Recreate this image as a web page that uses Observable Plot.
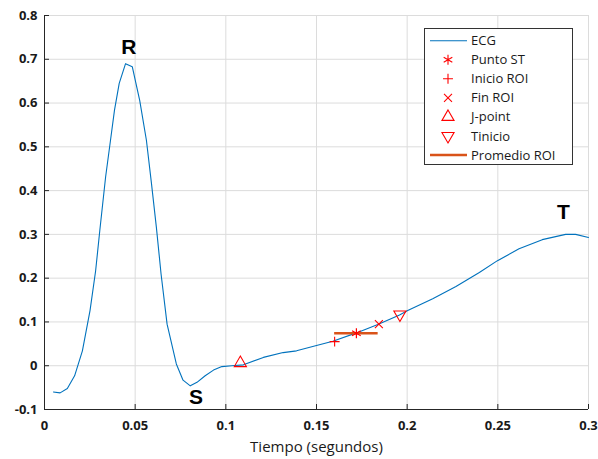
<!DOCTYPE html>
<html>
<head>
<meta charset="utf-8">
<script src="https://cdn.jsdelivr.net/npm/d3@7"></script>
<script src="https://cdn.jsdelivr.net/npm/@observablehq/plot@0.6"></script>
<style>
  body { margin: 0; background: #fff; }
  #chart svg { display: block; }
</style>
</head>
<body>
<div id="chart"></div>
<script>
// ECG trace (time in s, amplitude)
const ecgT = [0.0049, 0.0086, 0.0126, 0.0166, 0.0209, 0.0251, 0.0282, 0.0305, 0.0337, 0.0364, 0.0386, 0.0412, 0.0447, 0.0484, 0.0525, 0.0562, 0.0590, 0.0617, 0.0643, 0.0676, 0.0727, 0.0764, 0.0804, 0.0841, 0.0886, 0.0932, 0.0978, 0.1033, 0.1097, 0.1207, 0.1316, 0.1390, 0.1500, 0.1590, 0.1720, 0.1838, 0.1958, 0.2003, 0.2141, 0.2269, 0.2398, 0.2498, 0.2617, 0.2745, 0.2874, 0.2929, 0.3000];
const ecgV = [-0.060, -0.062, -0.052, -0.023, 0.034, 0.126, 0.217, 0.309, 0.431, 0.515, 0.584, 0.645, 0.690, 0.683, 0.606, 0.515, 0.416, 0.316, 0.209, 0.095, 0.004, -0.033, -0.046, -0.038, -0.023, -0.010, -0.002, 0.000, 0.002, 0.019, 0.030, 0.034, 0.046, 0.056, 0.075, 0.094, 0.116, 0.126, 0.153, 0.181, 0.213, 0.240, 0.267, 0.288, 0.300, 0.300, 0.293];

// Marker points
const puntoST = [0.172, 0.074];
const inicioROI = [0.160, 0.055];
const finROI = [0.1844, 0.095];
const jPoint = [0.108, 0.006];
const tInicio = [0.196, 0.117];
const promedioX = [0.160, 0.184];
const promedioY = 0.074;

// Wave labels
const waveLabels = ["R", "S", "T"];
const waveX = [0.0465, 0.0836, 0.2862];
const waveY = [0.727, -0.0716, 0.350];

// Ticks
const xTicks = [0, 0.05, 0.1, 0.15, 0.2, 0.25, 0.3];
const xTickLabels = ["0", "0.05", "0.1", "0.15", "0.2", "0.25", "0.3"];
const yTicks = [-0.1, 0, 0.1, 0.2, 0.3, 0.4, 0.5, 0.6, 0.7, 0.8];
const yTickLabels = ["-0.1", "0", "0.1", "0.2", "0.3", "0.4", "0.5", "0.6", "0.7", "0.8"];
const xLabel = "Tiempo (segundos)";

const legendLabels = ["ECG", "Punto ST", "Inicio ROI", "Fin ROI", "J-point", "Tinicio", "Promedio ROI"];

// ---------------------------------------------------------------
const ecg = ecgT.map((t, i) => ({t, v: ecgV[i]}));
const RED = "#ff0000";
const BLUE = "#0072BD";
const ORANGE = "#D95319";
const AX = "#262626";

const triDown = {
  draw(context, size) {
    const y = -Math.sqrt(size / (Math.sqrt(3) * 3));
    const s3 = Math.sqrt(3);
    context.moveTo(0, -2 * y);
    context.lineTo(-s3 * y, y);
    context.lineTo(s3 * y, y);
    context.closePath();
  }
};

const W = 598, H = 459, ML = 44, MR = 10, MT = 15, MB = 50;
const fw = W - ML - MR, fh = H - MT - MB;

const chart = Plot.plot({
  width: W, height: H,
  marginLeft: ML, marginRight: MR, marginTop: MT, marginBottom: MB,
  style: {fontFamily: "'Open Sans', sans-serif", background: "#fff", color: AX, overflow: "visible"},
  x: {domain: [0, 0.3], label: null},
  y: {domain: [-0.1, 0.8], label: null},
  marks: [
    Plot.gridX(xTicks, {stroke: "#dcdcdc", strokeOpacity: 1}),
    Plot.gridY(yTicks, {stroke: "#dcdcdc", strokeOpacity: 1}),
    Plot.axisX(xTicks, {tickSize: 0, tickPadding: 11, fontSize: 13, fontWeight: 700, label: null, fill: "#1a1a1a",
      tickFormat: d => xTickLabels[xTicks.indexOf(d)]}),
    Plot.axisY(yTicks, {tickSize: 0, tickPadding: 7, fontSize: 13, fontWeight: 700, label: null, fill: "#1a1a1a",
      tickFormat: d => yTickLabels[yTicks.indexOf(d)]}),
    Plot.tickY(yTicks, {y: d => d, insetRight: fw - 5, stroke: AX}),
    Plot.tickX(xTicks, {x: d => d, insetTop: fh - 5, stroke: AX}),
    Plot.ruleX([0], {stroke: AX, strokeWidth: 1}),
    Plot.ruleY([-0.1], {stroke: AX, strokeWidth: 1}),
    Plot.text([xLabel], {frameAnchor: "bottom", dy: 42, fontSize: 15, fontWeight: 500, fill: "#1a1a1a"}),
    Plot.line(ecg, {x: "t", y: "v", stroke: BLUE, strokeWidth: 1.1}),
    Plot.ruleY([promedioY], {x1: promedioX[0], x2: promedioX[1], stroke: ORANGE, strokeWidth: 2.5}),
    Plot.dot([puntoST], {x: d => d[0], y: d => d[1], symbol: "asterisk", r: 4.7, stroke: RED, strokeWidth: 1.2}),
    Plot.dot([inicioROI], {x: d => d[0], y: d => d[1], symbol: "plus", r: 3.3, stroke: RED, strokeWidth: 1.1}),
    Plot.dot([finROI], {x: d => d[0], y: d => d[1], symbol: "times", r: 3.7, stroke: RED, strokeWidth: 1.1}),
    Plot.dot([jPoint], {x: d => d[0], y: d => d[1], symbol: "triangle", r: 4.5, stroke: RED, strokeWidth: 1.1, fill: "none"}),
    Plot.dot([tInicio], {x: d => d[0], y: d => d[1], symbol: triDown, r: 4.5, stroke: RED, strokeWidth: 1.1, fill: "none"}),
    Plot.text(waveLabels, {x: (d, i) => waveX[i], y: (d, i) => waveY[i], text: d => d,
      fontSize: 21, fontWeight: "bold", fontFamily: "Arial, 'Liberation Sans', sans-serif", fill: "#000"})
  ]
});

document.getElementById("chart").appendChild(chart);

// Legend (MATLAB style box inside the axes)
const svg = d3.select(chart);
const lg = svg.append("g").attr("font-family", "'Open Sans', sans-serif").attr("font-size", 13)
  .attr("fill", "#1a1a1a").attr("text-anchor", "start");
const bx = 424.5, by = 28.5, bw = 148, bh = 136;
lg.append("rect").attr("x", bx).attr("y", by).attr("width", bw).attr("height", bh)
  .attr("fill", "#fff").attr("stroke", "#333").attr("stroke-width", 1);
const symTypes = [null, d3.symbolAsterisk, d3.symbolPlus, d3.symbolTimes, d3.symbolTriangle, triDown, null];
const symR = [0, 4.7, 3.3, 3.7, 4.5, 4.5, 0];
legendLabels.forEach((lab, i) => {
  const cy = 40.7 + i * 19.05;
  if (i === 0 || i === 6) {
    lg.append("line").attr("x1", 430).attr("x2", 467).attr("y1", cy).attr("y2", cy)
      .attr("stroke", i === 0 ? BLUE : ORANGE).attr("stroke-width", i === 0 ? 1.1 : 2.5);
  } else {
    const size = Math.PI * symR[i] * symR[i];
    lg.append("path").attr("d", d3.symbol(symTypes[i], size)())
      .attr("transform", `translate(448,${cy})`)
      .attr("fill", "none").attr("stroke", RED).attr("stroke-width", 1.1);
  }
  lg.append("text").attr("x", 471).attr("y", cy).attr("dy", "0.35em").attr("text-anchor", "start").text(lab);
});
</script>
</body>
</html>
